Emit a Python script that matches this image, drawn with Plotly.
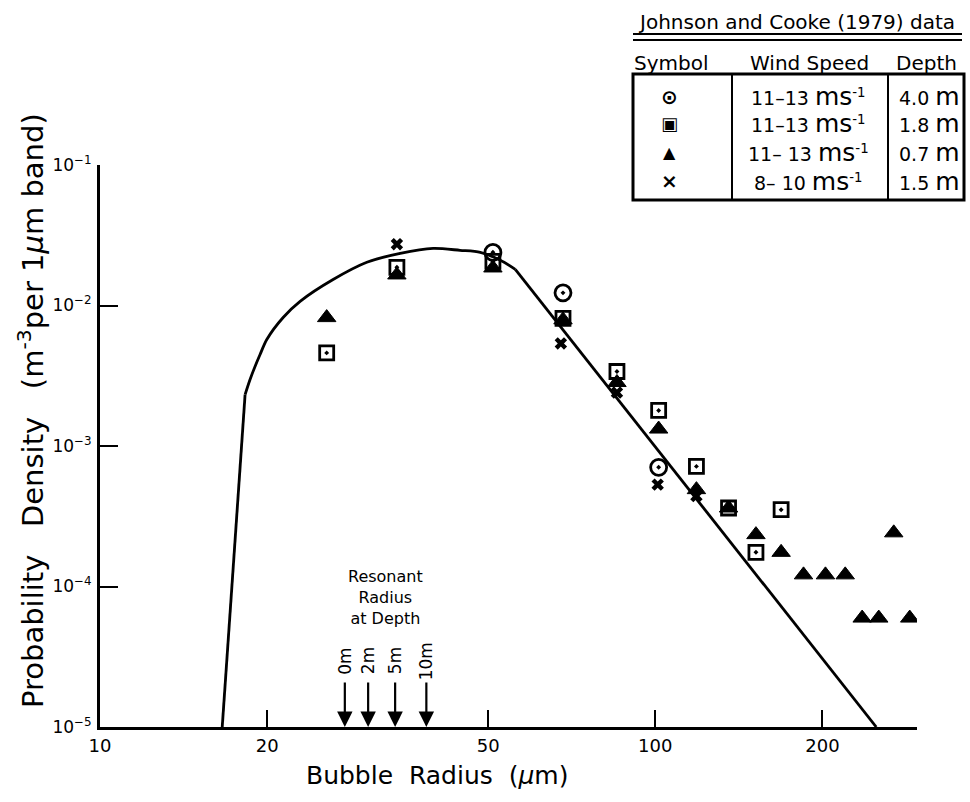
import math
import plotly.graph_objects as go

# ---------------- data ----------------
curve_r = [16.6, 18.25, 18.63, 19.02, 19.42, 19.97, 21.37, 22.93, 26.29, 30.24,
           34.72, 39.81, 44.5, 48.4, 52.6, 55.96, 250.0]
curve_v = [1e-5, 2.32e-3, 2.97e-3, 3.68e-3, 4.48e-3, 5.73e-3, 8.22e-3, 1.07e-2,
           1.53e-2, 2.03e-2, 2.35e-2, 2.55e-2, 2.47e-2, 2.39e-2, 2.10e-2, 1.81e-2, 1e-5]

circle_r = [51.0, 68.2, 101.4]
circle_v = [2.39e-2, 1.23e-2, 7.05e-4]

square_r = [25.6, 34.25, 51.0, 68.2, 85.3, 101.4, 118.6, 135.5, 151.8, 168.5]
square_v = [4.6e-3, 1.87e-2, 2.06e-2, 8.1e-3, 3.39e-3, 1.79e-3, 7.16e-4, 3.62e-4, 1.75e-4, 3.52e-4]

tri_r = [25.6, 34.25, 51.0, 68.2, 85.3, 101.4, 118.6, 135.5, 151.8, 168.5,
         184.9, 202.5, 219.8, 235.8, 252.6, 268.8, 287.2]
tri_v = [8.2e-3, 1.65e-2, 1.85e-2, 7.9e-3, 2.83e-3, 1.32e-3, 4.89e-4, 3.62e-4, 2.34e-4, 1.75e-4,
         1.21e-4, 1.21e-4, 1.21e-4, 5.96e-5, 5.96e-5, 2.41e-4, 5.96e-5]

cross_r = [34.25, 67.6, 85.3, 101.0, 118.6]
cross_v = [2.73e-2, 5.37e-3, 2.40e-3, 5.31e-4, 4.4e-4]

resonant_r = [27.6, 30.4, 34.0, 38.7]
resonant_labels = ["0m", "2m", "5m", "10m"]

x_tickvals = [10, 20, 50, 100, 200]
x_ticktext = ["10", "20", "50", "100", "200"]
y_tickvals = [1e-5, 1e-4, 1e-3, 1e-2, 1e-1]
y_ticktext = ["10<sup>\u22125</sup>", "10<sup>\u22124</sup>", "10<sup>\u22123</sup>",
              "10<sup>\u22122</sup>", "10<sup>\u22121</sup>"]

table_symbols = ["\u2299", "\u25a3", "\u25b2", "\u00d7"]
table_speeds = ["11\u201313", "11\u201313", "11\u2013 13", "8\u2013 10"]
table_depths = ["4.0", "1.8", "0.7", "1.5"]

# ---------------- layout helpers ----------------
W, H = 970, 802
L, R, T, B = 100, 53, 165, 75
PW, PH = W - L - R, H - T - B
FONT = "DejaVu Sans, Liberation Sans, Arial, sans-serif"


def px(x):
    return (x - L) / PW


def py(y):
    return (H - B - y) / PH


fig = go.Figure()

line_style = dict(color="black", width=2.8)
# steep rise, smooth arc, straight power-law fall
fig.add_trace(go.Scatter(x=curve_r[0:2], y=curve_v[0:2], mode="lines",
                         line=line_style, hoverinfo="skip"))
fig.add_trace(go.Scatter(x=curve_r[1:16], y=curve_v[1:16], mode="lines",
                         line=dict(color="black", width=2.8, shape="spline", smoothing=0.8),
                         hoverinfo="skip"))
fig.add_trace(go.Scatter(x=curve_r[15:], y=curve_v[15:], mode="lines",
                         line=line_style, hoverinfo="skip"))

fig.add_trace(go.Scatter(x=square_r, y=square_v, mode="markers",
                         marker=dict(symbol="square-open-dot", size=14, color="black",
                                     line=dict(color="black", width=2.8))))
fig.add_trace(go.Scatter(x=tri_r, y=tri_v, mode="markers",
                         marker=dict(symbol="triangle-up", size=16, color="black",
                                     line=dict(color="black", width=1))))
fig.add_trace(go.Scatter(x=circle_r, y=circle_v, mode="markers",
                         marker=dict(symbol="circle-open-dot", size=16, color="black",
                                     line=dict(color="black", width=2.8))))
fig.add_trace(go.Scatter(x=cross_r, y=cross_v, mode="markers",
                         marker=dict(symbol="x", size=11, color="black",
                                     line=dict(width=0))))

annotations = []
# resonant arrows and labels
for r, lab in zip(resonant_r, resonant_labels):
    annotations.append(dict(x=math.log10(r), y=-5, xref="x", yref="y", text="",
                            showarrow=True, ax=0, ay=-46, arrowhead=2, arrowsize=1.4,
                            arrowwidth=2.2, arrowcolor="black", standoff=0))
    annotations.append(dict(x=math.log10(r), y=py(661), xref="x", yref="paper", text=lab,
                            showarrow=False, textangle=-90,
                            font=dict(size=17, family=FONT, color="black"),
                            xanchor="center", yanchor="middle"))

annotations.append(dict(x=px(385), y=py(597), xref="paper", yref="paper",
                        text="Resonant<br>Radius<br>at Depth", showarrow=False,
                        font=dict(size=16, family=FONT, color="black"),
                        xanchor="center", yanchor="middle"))

# axis titles
annotations.append(dict(x=px(437), y=py(775), xref="paper", yref="paper",
                        text="Bubble\u00a0\u00a0Radius\u00a0\u00a0(<i>\u03bc</i>m)", showarrow=False,
                        font=dict(size=25, family=FONT, color="black"),
                        xanchor="center", yanchor="middle"))
annotations.append(dict(x=px(31), y=py(411), xref="paper", yref="paper",
                        text="Probability\u00a0\u00a0\u00a0Density\u00a0\u00a0\u00a0(m<sup>-3</sup>per 1<i>\u03bc</i>m band)",
                        showarrow=False, textangle=-90,
                        font=dict(size=29, family=FONT, color="black"),
                        xanchor="center", yanchor="middle"))

# table
annotations.append(dict(x=px(796), y=py(22), xref="paper", yref="paper",
                        text="Johnson and Cooke (1979) data", showarrow=False,
                        font=dict(size=20, family=FONT, color="black"),
                        xanchor="center", yanchor="middle"))
for txt, xx in [("Symbol", 671), ("Wind Speed", 809), ("Depth", 926)]:
    annotations.append(dict(x=px(xx), y=py(63), xref="paper", yref="paper",
                            text=txt, showarrow=False,
                            font=dict(size=20, family=FONT, color="black"),
                            xanchor="center", yanchor="middle"))
row_y = [97, 124, 152, 181]
sym_sizes = [20, 18, 16, 20]
for i in range(4):
    annotations.append(dict(x=px(669), y=py(row_y[i]), xref="paper", yref="paper",
                            text="<b>" + table_symbols[i] + "</b>", showarrow=False,
                            font=dict(size=sym_sizes[i], family="DejaVu Sans", color="black"),
                            xanchor="center", yanchor="middle"))
    annotations.append(dict(x=px(808), y=py(row_y[i]), xref="paper", yref="paper",
                            text=table_speeds[i] + " <span style='font-size:25px'>ms</span><sup>-1</sup>",
                            showarrow=False,
                            font=dict(size=19, family=FONT, color="black"),
                            xanchor="center", yanchor="middle"))
    annotations.append(dict(x=px(929), y=py(row_y[i]), xref="paper", yref="paper",
                            text=table_depths[i] + " <span style='font-size:25px'>m</span>",
                            showarrow=False,
                            font=dict(size=19, family=FONT, color="black"),
                            xanchor="center", yanchor="middle"))

shapes = [
    dict(type="rect", xref="paper", yref="paper", x0=px(633), x1=px(964), y0=py(74), y1=py(200),
         line=dict(color="black", width=3)),
    dict(type="line", xref="paper", yref="paper", x0=px(732), x1=px(732), y0=py(74), y1=py(200),
         line=dict(color="black", width=2)),
    dict(type="line", xref="paper", yref="paper", x0=px(888), x1=px(888), y0=py(74), y1=py(200),
         line=dict(color="black", width=2)),
    dict(type="line", xref="paper", yref="paper", x0=px(633), x1=px(962), y0=py(34), y1=py(34),
         line=dict(color="black", width=1.8)),
    dict(type="line", xref="paper", yref="paper", x0=px(633), x1=px(962), y0=py(40), y1=py(40),
         line=dict(color="black", width=1.8)),
]

fig.update_layout(
    width=W, height=H,
    margin=dict(l=L, r=R, t=T, b=B, pad=0),
    paper_bgcolor="white", plot_bgcolor="white",
    showlegend=False,
    font=dict(family=FONT, color="black"),
    annotations=annotations,
    shapes=shapes,
    xaxis=dict(type="log", range=[1, math.log10(296)], showgrid=False, zeroline=False,
               showline=True, linecolor="black", linewidth=3,
               ticks="inside", ticklen=17, tickwidth=2, tickcolor="black",
               tickvals=x_tickvals, ticktext=x_ticktext,
               tickfont=dict(size=18, family=FONT, color="black")),
    yaxis=dict(type="log", range=[-5, -1], showgrid=False, zeroline=False,
               showline=True, linecolor="black", linewidth=3,
               ticks="inside", ticklen=18, tickwidth=2, tickcolor="black",
               tickvals=y_tickvals, ticktext=y_ticktext, ticklabelstandoff=2,
               tickfont=dict(size=17, family=FONT, color="black")),
)

fig.write_html("out.html")
